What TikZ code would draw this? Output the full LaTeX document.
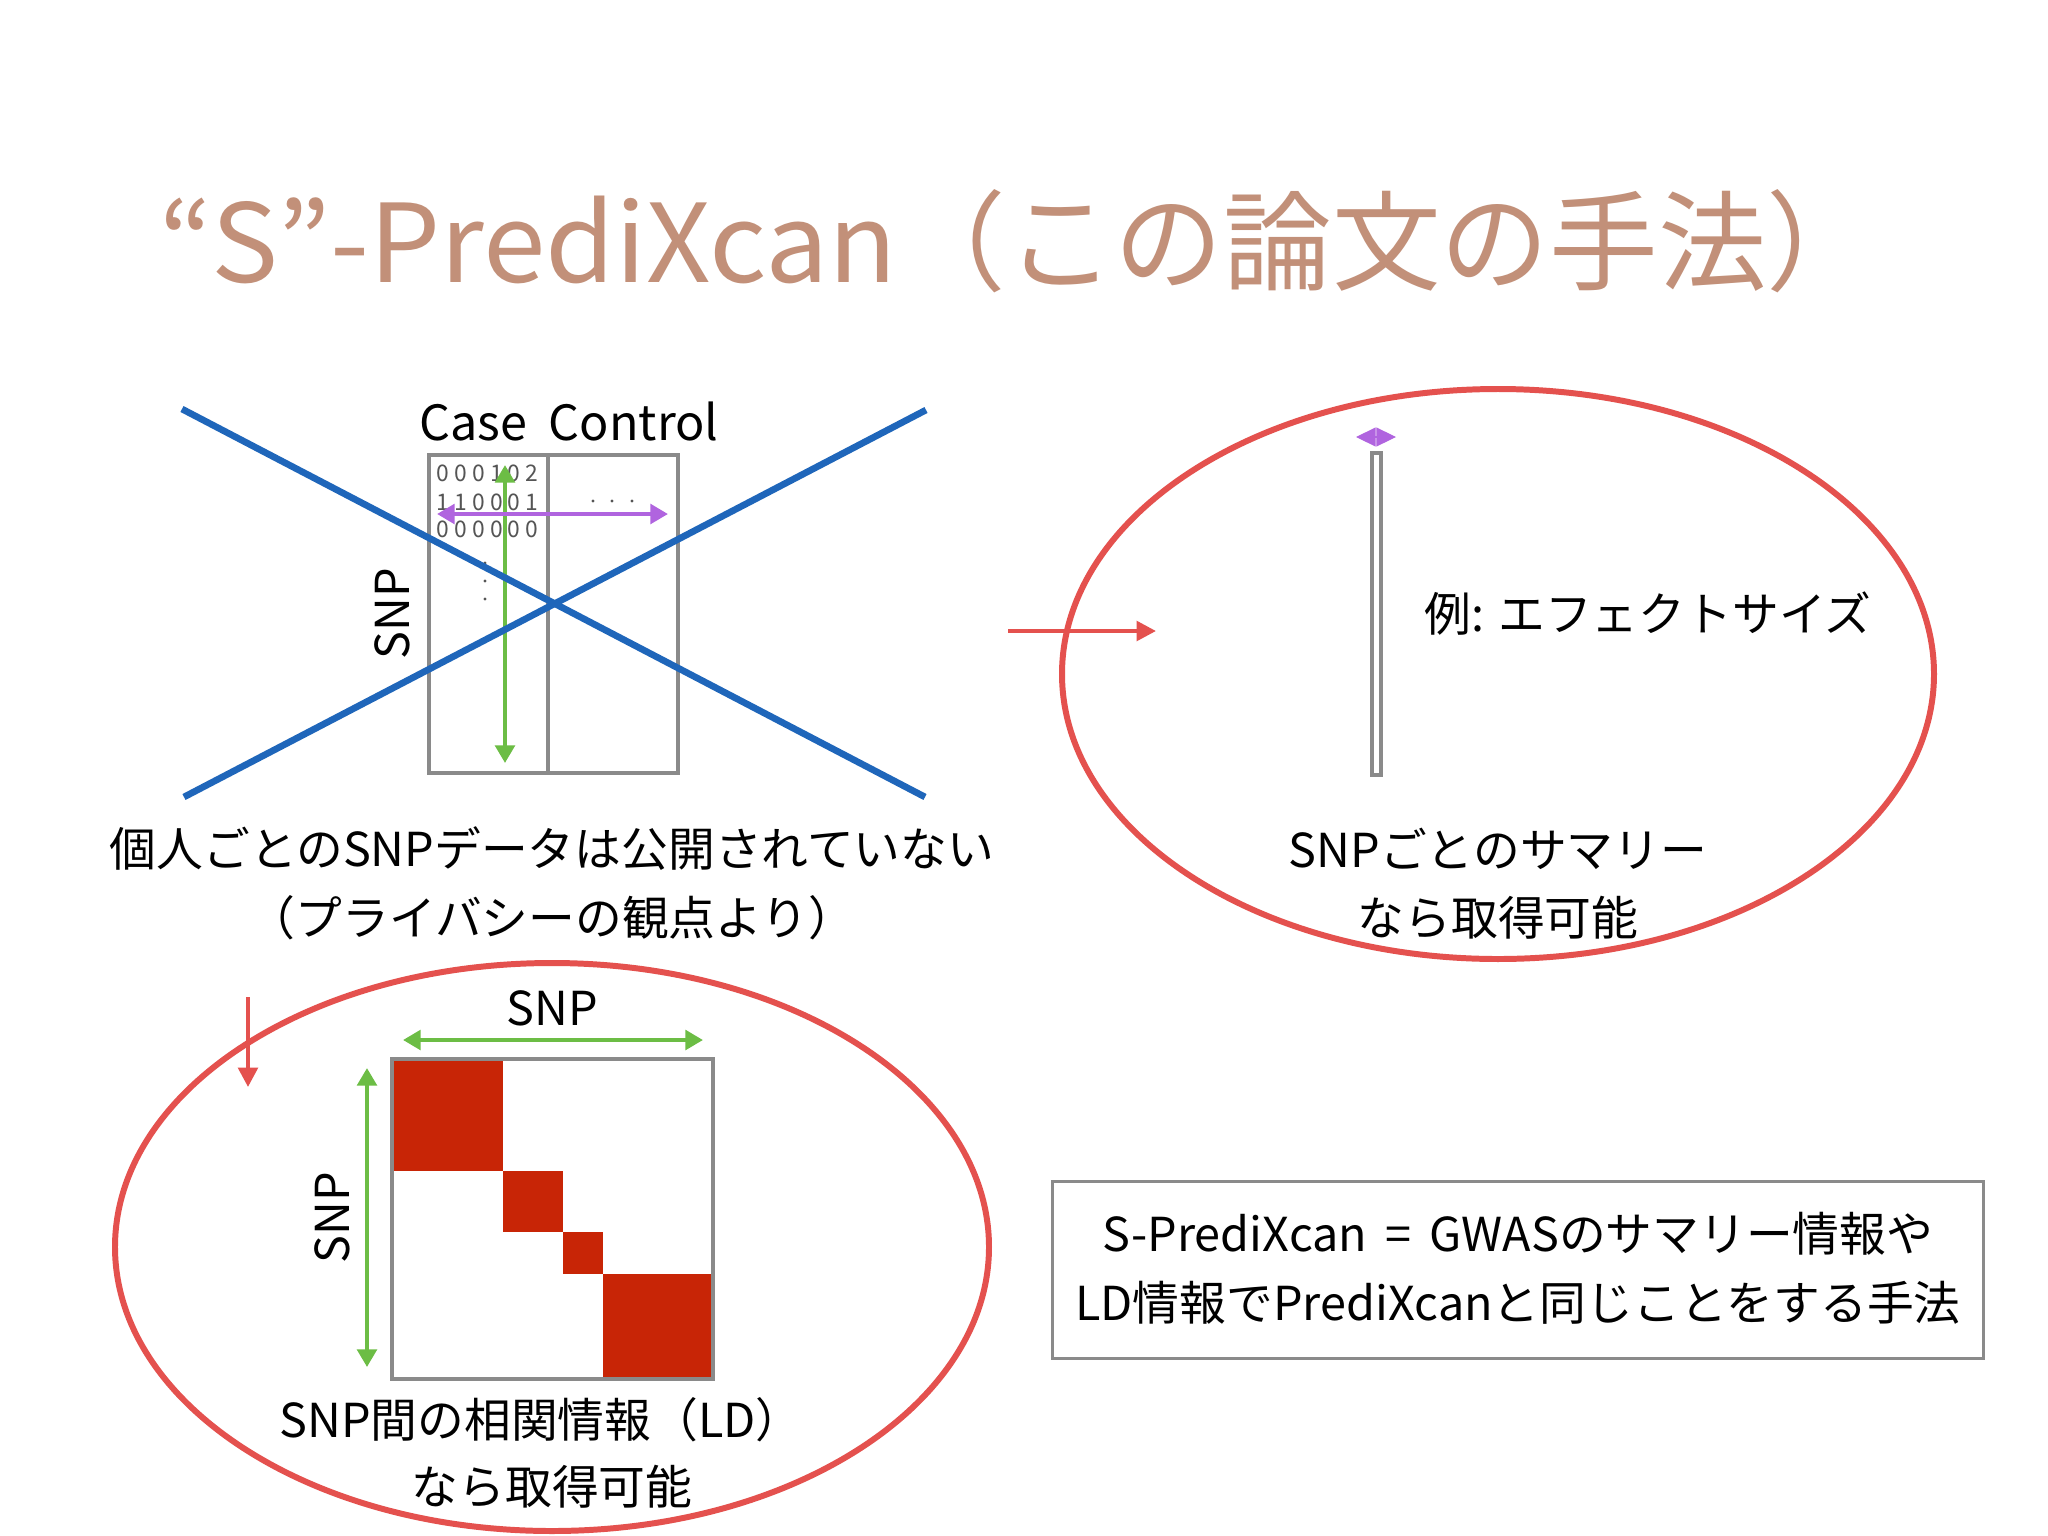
\documentclass[tikz,border=0pt]{standalone}
\usepackage{fontspec}
\setmainfont{Noto Sans CJK JP}
\usetikzlibrary{arrows.meta}
\definecolor{titlec}{HTML}{C29079}
\definecolor{xblue}{HTML}{1F66BA}
\definecolor{sred}{HTML}{E4514E}
\definecolor{sgreen}{HTML}{6CBD45}
\definecolor{spurple}{HTML}{B064DF}
\definecolor{blockred}{HTML}{C82506}
\definecolor{boxgray}{HTML}{8A8A8A}
\definecolor{digitgray}{HTML}{555555}
\tikzset{
  body/.style={font=\fontsize{13.3}{16}\selectfont, inner sep=0pt},
  digits/.style={font=\fontsize{6.5}{8}\selectfont, text=digitgray, inner sep=0pt, anchor=west},
  greenarrow/.style={draw=sgreen, line width=1.2pt, {Triangle[length=5pt,width=5.5pt]}-{Triangle[length=5pt,width=5.5pt]}},
  purplearrow/.style={draw=spurple, line width=1.2pt, {Triangle[length=5pt,width=5.5pt]}-{Triangle[length=5pt,width=5.5pt]}},
  redarrow/.style={draw=sred, line width=1.2pt, -{Triangle[length=5.5pt,width=5.5pt]}},
  redellipse/.style={draw=sred, line width=1.7pt},
  bluecross/.style={draw=xblue, line width=1.9pt},
  grayframe/.style={draw=boxgray, line width=0.9pt},
}
\begin{document}
\begin{tikzpicture}[x=0.01cm,y=-0.01cm]
\useasboundingbox[fill=white] (0,0) rectangle (2048,1536);

% title
\node[anchor=base west, inner sep=0pt, text=titlec, font=\fontsize{30.9}{36}\selectfont] (title) at (159,282) {\scalebox{1.035}[1]{“S”-PrediXcan}（この論文の手法）};

% ---------- left: individual data ----------
\draw[grayframe, line width=1pt] (429,455) rectangle (678,773);
\draw[grayframe, line width=1pt] (548,455) -- (548,773);
\node[body, font=\fontsize{13.8}{16}\selectfont] (casectrl) at (569,421) {Case\ \ Control};
\node[body, rotate=90] (snpL) at (392,614) {SNP};
\node[digits] (row1) at (436,473) {0 0 0 1 0 2};
\node[digits] (row2) at (436,502) {1 1 0 0 0 1};
\node[digits] (row3) at (436,529) {0 0 0 0 0 0};
\foreach \xx in {593,612,632} \fill[digitgray] (\xx,501) circle (1.6);
\foreach \yy in {563,581,599} \fill[digitgray] (485,\yy) circle (1.6);
\coordinate (gvtop) at (505,465);
\coordinate (gvbot) at (505,763);
\draw[greenarrow] (gvtop) -- (gvbot);
\coordinate (phl) at (437,514);
\coordinate (phr) at (668,514);
\draw[purplearrow] (phl) -- (phr);
\coordinate (x1a) at (182,409);
\coordinate (x1b) at (925,797);
\coordinate (x2a) at (184,797);
\coordinate (x2b) at (926,410);
\draw[bluecross] (x1a) -- (x1b);
\draw[bluecross] (x2a) -- (x2b);
\node[body] (notpub) at (552,849) {個人ごとのSNPデータは公開されていない};
\node[body] (privacy) at (552,918) {（プライバシーの観点より）};

% ---------- right ellipse: summary ----------
\draw[redellipse] (1498,674) ellipse [x radius=436, y radius=285];
\coordinate (rastart) at (1008,631);
\coordinate (raend) at (1156,631);
\draw[redarrow] (rastart) -- (raend);
\draw[grayframe, line width=1.1pt] (1372,453) rectangle (1381,775);
\coordinate (pal) at (1356,437);
\coordinate (par) at (1396,437);
\draw[draw=spurple, line width=0.3pt, {Triangle[length=5.6pt,width=5.4pt]}-{Triangle[length=5.6pt,width=5.4pt]}] (pal) -- (par);
\node[body, anchor=west] (effect) at (1424,614) {例: エフェクトサイズ};
\node[body] (summ1) at (1498,849) {SNPごとのサマリー};
\node[body] (summ2) at (1498,918) {なら取得可能};

% ---------- bottom-left ellipse: LD ----------
\draw[redellipse] (552,1247) ellipse [x radius=437, y radius=284];
\coordinate (dastart) at (248,997);
\coordinate (daend) at (248,1087);
\draw[redarrow] (dastart) -- (daend);
\fill[blockred] (392,1059) rectangle (503,1171);
\fill[blockred] (503,1171) rectangle (563,1232);
\fill[blockred] (563,1232) rectangle (603,1274);
\fill[blockred] (603,1274) rectangle (713,1379);
\draw[grayframe, line width=1pt] (392,1059) rectangle (713,1379);
\coordinate (ghl) at (403,1040);
\coordinate (ghr) at (703,1040);
\draw[greenarrow] (ghl) -- (ghr);
\coordinate (gvt) at (367,1068);
\coordinate (gvb) at (367,1367);
\draw[greenarrow] (gvt) -- (gvb);
\node[body] (snpTop) at (552,1008) {SNP};
\node[body, rotate=90] (snpSide) at (332,1218) {SNP};
\node[body] (ld1) at (541,1420) {SNP間の相関情報（LD）};
\node[body] (ld2) at (552,1487) {なら取得可能};

% ---------- bottom-right box ----------
\node[grayframe, minimum width=9.31cm, minimum height=1.77cm, inner sep=0pt] (summary) at (1518,1270) {};
\node[body] (sumline1) at (1518,1234) {S-PrediXcan\ \,=\ \,GWASのサマリー情報や};
\node[body] (sumline2) at (1518,1303) {LD情報でPrediXcanと同じことをする手法};
\end{tikzpicture}
\end{document}
